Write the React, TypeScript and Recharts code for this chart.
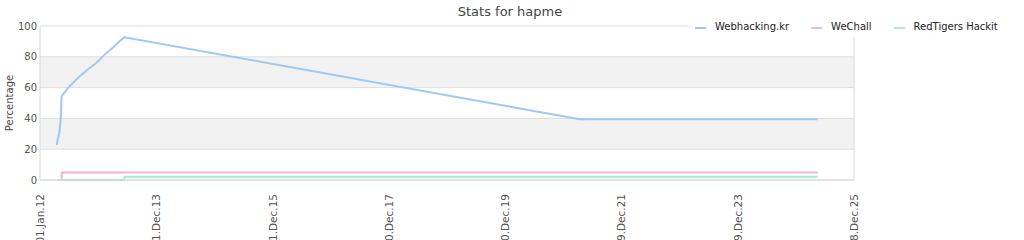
import React from 'react';
import { CartesianGrid, Legend, Line, LineChart, ReferenceLine, XAxis, YAxis } from 'recharts';

// days counted from 01.Jan.12
const webhackingDays = [105, 112, 121, 127, 131, 135, 143, 175, 237, 300, 353, 405, 457, 499, 531, 3389, 4882];
const webhackingValues = [22.8, 27, 30.4, 37, 41, 54.3, 55.4, 59.7, 66.2, 71.7, 76, 81.4, 85.8, 90.1, 92.7, 39.4, 39.4];

const wechallDays = [112, 136, 137, 4882];
const wechallValues = [0, 0, 4.8, 4.8];

const redtigersDays = [112, 530, 531, 4882];
const redtigersValues = [0, 0, 2.1, 2.1];

const xTicks = [0, 730, 1460, 2190, 2920, 3650, 4380, 5110];
const xTickLabels = ['01.Jan.12', '31.Dec.13', '31.Dec.15', '30.Dec.17', '30.Dec.19', '29.Dec.21', '29.Dec.23', '28.Dec.25'];
const yTicks = [0, 20, 40, 60, 80, 100];

const toSeries = (days: number[], values: number[]) => days.map((day, i) => ({ day, value: values[i] }));

const series = [
  { name: 'Webhacking.kr', color: '#9ec9f5', data: toSeries(webhackingDays, webhackingValues) },
  { name: 'WeChall', color: '#f5b3d3', data: toSeries(wechallDays, wechallValues) },
  { name: 'RedTigers Hackit', color: '#a5ebd2', data: toSeries(redtigersDays, redtigersValues) },
];
const seriesNames = series.map((s) => s.name);

const XTick = (props: any) => {
  const { x, payload } = props;
  const label = xTickLabels[xTicks.indexOf(payload.value)];
  return (
    <text
      x={x}
      y={194}
      transform={`rotate(-90, ${x}, 194)`}
      textAnchor="end"
      dominantBaseline="central"
      fontSize={10.5}
      fill="#555"
    >
      {label}
    </text>
  );
};

const LegendContent = (props: any) => {
  const items = [...(props.payload || [])].sort(
    (a: any, b: any) => seriesNames.indexOf(a.value) - seriesNames.indexOf(b.value)
  );
  return (
    <div style={{ height: 37, background: '#ffffff', boxSizing: 'border-box', paddingTop: 21 }}>
      <div style={{ display: 'flex', alignItems: 'center', height: 12, paddingLeft: 5 }}>
        {items.map((item: any) => (
          <div key={item.value} style={{ display: 'flex', alignItems: 'center', marginRight: 22 }}>
            <span style={{ display: 'inline-block', width: 11, height: 2, background: item.color, marginRight: 9, position: 'relative', top: 1 }} />
            <span style={{ fontSize: 10, color: '#222', lineHeight: '12px', whiteSpace: 'nowrap' }}>{item.value}</span>
          </div>
        ))}
      </div>
    </div>
  );
};

export default function App() {
  return (
    <div style={{ position: 'absolute', left: 0, top: 0, width: 1024, height: 240, fontFamily: '"DejaVu Sans", sans-serif' }}>
      <div style={{ position: 'absolute', top: 4, left: 0, width: 1020, textAlign: 'center', fontSize: 13, lineHeight: '15px', color: '#444' }}>
        Stats for hapme
      </div>
      <LineChart width={1024} height={240} margin={{ top: 26, right: 170, bottom: 0, left: 0 }}>
        <CartesianGrid vertical={false} stroke="#dddddd" horizontalFill={['#ffffff', '#f2f2f2']} fillOpacity={1} />
        <XAxis
          type="number"
          dataKey="day"
          domain={[0, 5110]}
          ticks={xTicks}
          interval={0}
          height={60}
          tick={<XTick />}
          tickLine={false}
          axisLine={{ stroke: '#d8d8d8' }}
          allowDataOverflow
        />
        <YAxis
          type="number"
          domain={[0, 100]}
          ticks={yTicks}
          width={40}
          tickLine={false}
          tickSize={1}
          tickMargin={2}
          axisLine={{ stroke: '#d8d8d8' }}
          tick={{ fontSize: 10, fill: '#555' }}
          label={{
            value: 'Percentage',
            position: 'insideLeft',
            content: (p: any) => {
              const vb = p.viewBox || { y: 26, height: 154 };
              const cy = vb.y + vb.height / 2;
              return (
                <text transform={`translate(13, ${cy}) rotate(-90)`} textAnchor="middle" fontSize={10} fill="#444">
                  Percentage
                </text>
              );
            },
          }}
        />
        <ReferenceLine x={5110} stroke="#d8d8d8" />
        <Legend
          verticalAlign="top"
          align="right"
          content={<LegendContent />}
          wrapperStyle={{ top: 0, left: 690, right: 'auto', width: 334, height: 0, overflow: 'visible' }}
        />
        {series.map((s) => (
          <Line
            key={s.name}
            data={s.data}
            dataKey="value"
            name={s.name}
            type="linear"
            stroke={s.color}
            strokeWidth={2}
            dot={false}
            activeDot={false}
            isAnimationActive={false}
          />
        ))}
      </LineChart>
    </div>
  );
}
